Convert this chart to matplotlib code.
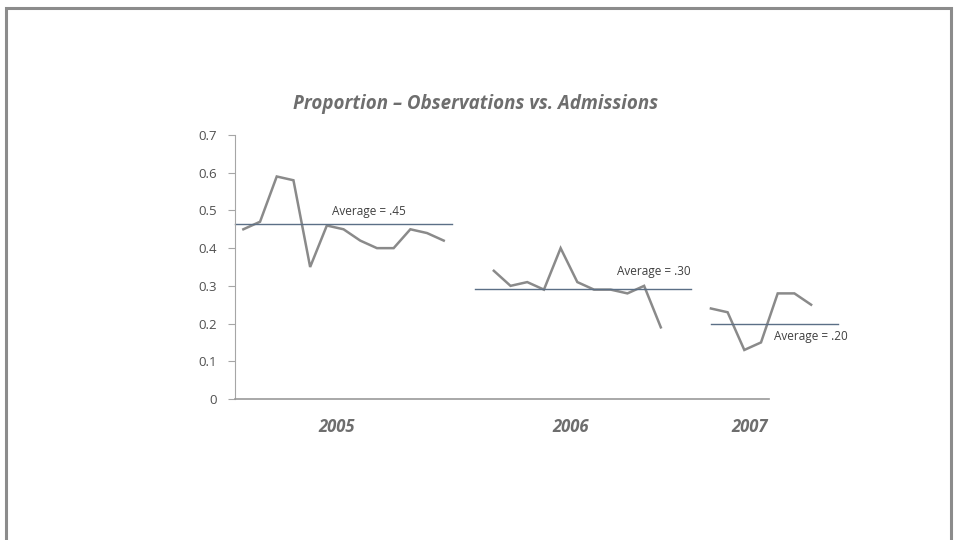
import numpy as np
import matplotlib
matplotlib.use("Agg")
import matplotlib.pyplot as plt
from matplotlib.patches import Rectangle
from matplotlib.transforms import blended_transform_factory

# --- Données ---
years = ["2005", "2006", "2007"]
values_2005 = [0.45, 0.47, 0.59, 0.58, 0.35, 0.46, 0.45, 0.42, 0.40, 0.40, 0.45, 0.44, 0.42]
values_2006 = [0.34, 0.30, 0.31, 0.29, 0.40, 0.31, 0.29, 0.29, 0.28, 0.30, 0.19]
values_2007 = [0.24, 0.23, 0.13, 0.15, 0.28, 0.28, 0.25]
avg_levels = [0.465, 0.292, 0.20]
avg_labels = ["Average = .45", "Average = .30", "Average = .20"]
y_ticks = [0, 0.1, 0.2, 0.3, 0.4, 0.5, 0.6, 0.7]
y_tick_labels = ["0", "0.1", "0.2", "0.3", "0.4", "0.5", "0.6", "0.7"]

# --- Mise en page (index de catégorie) ---
starts = [0, 15, 28]
avg_spans = [(-0.5, 12.5), (13.9, 26.8), (28.0, 35.6)]
label_pos = [(7.5, 0.496), (24.6, 0.338), (34.0, 0.165)]
year_pos = [5.6, 19.6, 30.3]

LINE_GRAY = "#8a8a8a"
AVG_COLOR = "#5b6f86"
TEXT_GRAY = "#6e6e6e"

fig = plt.figure(figsize=(9.56, 5.4), dpi=100)
fig.patch.set_facecolor("white")

# cadre autour de l'image
fig.add_artist(Rectangle((6 / 956, -0.05), 945 / 956, 1.05 - 8 / 540,
                         transform=fig.transFigure, fill=False,
                         edgecolor="#8c8c8c", linewidth=2.2))

ax = fig.add_axes([235 / 956, 141 / 540, (844.5 - 235) / 956, 264 / 540])
ax.set_xlim(-0.5, 36)
ax.set_ylim(0, 0.7)

for start, vals in zip(starts, [values_2005, values_2006, values_2007]):
    xs = np.arange(start, start + len(vals))
    ax.plot(xs, vals, color=LINE_GRAY, linewidth=1.8, solid_joinstyle="miter", clip_on=False)

for (x0, x1), lvl, lab, (tx, ty) in zip(avg_spans, avg_levels, avg_labels, label_pos):
    ax.plot([x0, x1], [lvl, lvl], color=AVG_COLOR, linewidth=1.0, clip_on=False)
    ax.text(tx, ty, lab, ha="center", va="center", fontsize=8.5,
            color="#404040", family="Open Sans")

# axes
for s in ["top", "right"]:
    ax.spines[s].set_visible(False)
ax.spines["left"].set_color("#a6a6a6")
ax.spines["bottom"].set_color("#999999")
ax.spines["bottom"].set_linewidth(1.2)
ax.spines["bottom"].set_bounds(-0.5, 31.5)
ax.set_xticks([])
ax.set_yticks(y_ticks)
ax.set_yticklabels(y_tick_labels, fontsize=9.5, color="#505050", family="Open Sans")
ax.tick_params(axis="y", length=5, color="#a6a6a6", pad=8)

tr = blended_transform_factory(ax.transData, ax.transAxes)
for yx, yr in zip(year_pos, years):
    ax.text(yx, -0.105, yr, transform=tr, ha="center", va="center", fontsize=12,
            color=TEXT_GRAY, style="italic", weight="bold", family="Open Sans")

fig.text(476 / 956, 1 - 104 / 540, "Proportion \u2013 Observations vs. Admissions",
         ha="center", va="center", fontsize=13.5, color=TEXT_GRAY,
         style="italic", weight="bold", family="Open Sans")

fig.savefig("out.png", dpi=100, facecolor="white")
